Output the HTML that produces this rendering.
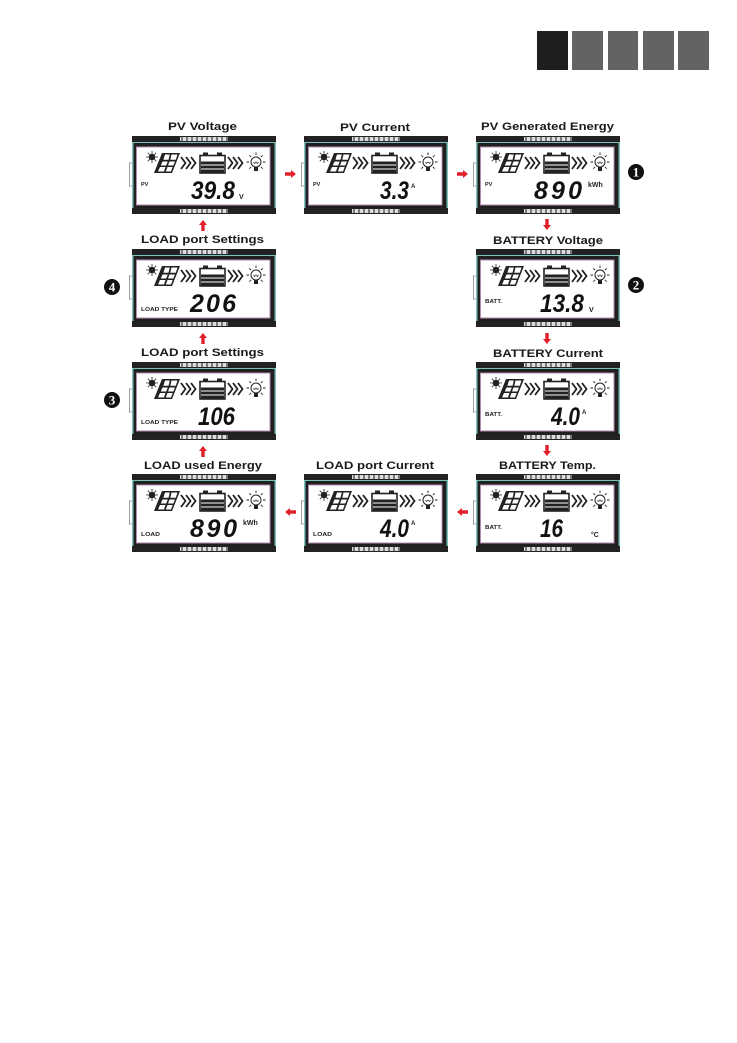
<!DOCTYPE html>
<html><head><meta charset="utf-8"><style>
html,body{margin:0;padding:0;background:#fff;width:737px;height:1043px;overflow:hidden}
svg{display:block}
.t{font:bold 11px "Liberation Sans",sans-serif;fill:#1a1a1a}
.l{font:bold 5.500px "Liberation Sans",sans-serif;fill:#222}
.u{font:bold 7px "Liberation Sans",sans-serif;fill:#222}
.d{font:italic bold 25px "Liberation Sans",sans-serif;fill:#111}
.n{font:bold 13px "Liberation Serif",serif;fill:#fff}
</style></head><body>
<svg width="737" height="1043" viewBox="0 0 737 1043" xmlns="http://www.w3.org/2000/svg">
<defs>
<g id="chev" fill="none" stroke="#222" stroke-width="1.800">
<path d="M0 0l4.500 6-4.500 6M5 0l4.500 6-4.500 6M10 0l4.500 6-4.500 6"/>
</g>
<g id="bar">
<rect width="144" height="6" fill="#222"/>
<rect x="48" y="1" width="48" height="4" fill="#ddd"/>
<path d="M50 1v4M55 1v4M60 1v4M65 1v4M70 1v4M75 1v4M80 1v4M85 1v4M90 1v4M95 1v4" stroke="#444" stroke-width="1.300"/>
</g>
<g id="p">
<path d="M1 27H-2.500V50H1" fill="none" stroke="#888" stroke-width=".8"/>
<rect x="0" y="6" width="144" height="66" fill="#7cc2bd"/>
<rect x="1.500" y="7" width="141" height="65" fill="#1f1f1f"/>
<rect x="4.500" y="11" width="133.500" height="58" fill="#fff" stroke="#b48bb0" stroke-width="1"/>
<use href="#bar"/>
<use href="#bar" y="72"/>
<!-- sun -->
<circle cx="20" cy="21" r="3.300" fill="#222"/>
<path d="M20 15v2.500M20 24.500v2.500M14 21h2.500M23.500 21h2.500M15.800 16.800l1.800 1.800M22.400 23.400l1.800 1.800M24.200 16.800l-1.800 1.800M17.600 23.400l-1.800 1.800" stroke="#222" stroke-width=".8"/>
<!-- pv panel -->
<path d="M30 17H48L40 37H22Z" fill="#222"/>
<path d="M33 18.500H37.800L36.500 23.800H31.400ZM39.500 18.500H45.500L43.800 23.800H38.300ZM30.500 25.500H35.700L34.200 29.500H28.800ZM37.500 25.500H43L41.300 29.500H36ZM28 31H33.500L32 35.500H26ZM35.500 31H40.700L39 35.500H33.800Z" fill="#fff"/>
<use href="#chev" x="49" y="21"/>
<use href="#chev" x="96" y="21"/>
<!-- battery -->
<rect x="68" y="19.500" width="25" height="17.500" fill="#fff" stroke="#222" stroke-width="1.600"/>
<rect x="71" y="16.500" width="5" height="3" fill="#222"/>
<rect x="85" y="16.500" width="5" height="3" fill="#222"/>
<rect x="69" y="25.500" width="23" height="3" fill="#222"/>
<rect x="69" y="29.500" width="23" height="3" fill="#222"/>
<rect x="69" y="33.500" width="23" height="3" fill="#222"/>
<!-- bulb -->
<circle cx="124" cy="26" r="5" fill="#fff" stroke="#222" stroke-width="1"/>
<path d="M121.500 26l1 1.500 1.500-1.500 1.500 1.500 1-1.500" fill="none" stroke="#222" stroke-width=".7"/>
<rect x="122" y="31" width="4" height="4" fill="#222"/>
<path d="M124 16.500v2.500M114.500 26h2.500M131 26h2.500M117.300 19.300l1.800 1.800M130.700 19.300l-1.800 1.800M117.300 32.700l1.800-1.800M130.700 32.700l-1.800-1.800" stroke="#222" stroke-width=".9"/>
</g>
<path id="ar" d="M0 -1.700H6V-4L11 0 6 4V1.700H0Z" fill="#e0202a"/>
</defs>

<rect x="537" y="31" width="31" height="39" fill="#1f1f1f"/>
<rect x="572" y="31" width="31" height="39" fill="#626364"/>
<rect x="608" y="31" width="30" height="39" fill="#626364"/>
<rect x="643" y="31" width="31" height="39" fill="#626364"/>
<rect x="678" y="31" width="31" height="39" fill="#626364"/>

<use href="#p" x="132" y="136"/>
<use href="#p" x="304" y="136"/>
<use href="#p" x="476" y="136"/>
<use href="#p" x="132" y="249"/>
<use href="#p" x="476" y="249"/>
<use href="#p" x="132" y="362"/>
<use href="#p" x="476" y="362"/>
<use href="#p" x="132" y="474"/>
<use href="#p" x="304" y="474"/>
<use href="#p" x="476" y="474"/>

<text class="t" x="168" y="130" textLength="69" lengthAdjust="spacingAndGlyphs">PV Voltage</text>
<text class="t" x="340" y="131" textLength="70" lengthAdjust="spacingAndGlyphs">PV Current</text>
<text class="t" x="481" y="130" textLength="133" lengthAdjust="spacingAndGlyphs">PV Generated Energy</text>
<text class="t" x="141" y="243" textLength="123" lengthAdjust="spacingAndGlyphs">LOAD port Settings</text>
<text class="t" x="493" y="244" textLength="110" lengthAdjust="spacingAndGlyphs">BATTERY Voltage</text>
<text class="t" x="141" y="356" textLength="123" lengthAdjust="spacingAndGlyphs">LOAD port Settings</text>
<text class="t" x="493" y="357" textLength="110" lengthAdjust="spacingAndGlyphs">BATTERY Current</text>
<text class="t" x="144" y="469" textLength="118" lengthAdjust="spacingAndGlyphs">LOAD used Energy</text>
<text class="t" x="316" y="469" textLength="118" lengthAdjust="spacingAndGlyphs">LOAD port Current</text>
<text class="t" x="499" y="469" textLength="97" lengthAdjust="spacingAndGlyphs">BATTERY Temp.</text>

<!-- Row 1 -->
<text class="l" x="141" y="186">PV</text>
<text class="d" x="191" y="199" textLength="44" lengthAdjust="spacingAndGlyphs">39.8</text>
<text class="u" x="239" y="199">V</text>
<text class="l" x="313" y="186">PV</text>
<text class="d" x="380" y="199" textLength="29" lengthAdjust="spacingAndGlyphs">3.3</text>
<text class="u" x="411" y="188" style="font-size:6px">A</text>
<text class="l" x="485" y="186">PV</text>
<text class="d" x="534" y="199" textLength="48" lengthAdjust="spacing">890</text>
<text class="u" x="588" y="187">kWh</text>
<!-- Row 2 -->
<text class="l" x="141" y="311" textLength="37" lengthAdjust="spacingAndGlyphs">LOAD TYPE</text>
<text class="d" x="190" y="312" textLength="46" lengthAdjust="spacing">206</text>
<text class="l" x="485" y="303" textLength="17" lengthAdjust="spacingAndGlyphs">BATT.</text>
<text class="d" x="540" y="312" textLength="44" lengthAdjust="spacingAndGlyphs">13.8</text>
<text class="u" x="589" y="312">V</text>
<!-- Row 3 -->
<text class="l" x="141" y="424" textLength="37" lengthAdjust="spacingAndGlyphs">LOAD TYPE</text>
<text class="d" x="198" y="425" textLength="37" lengthAdjust="spacingAndGlyphs">106</text>
<text class="l" x="485" y="416" textLength="17" lengthAdjust="spacingAndGlyphs">BATT.</text>
<text class="d" x="551" y="425" textLength="29" lengthAdjust="spacingAndGlyphs">4.0</text>
<text class="u" x="582" y="414" style="font-size:6px">A</text>
<!-- Row 4 -->
<text class="l" x="141" y="536" textLength="19" lengthAdjust="spacingAndGlyphs">LOAD</text>
<text class="d" x="190" y="537" textLength="47" lengthAdjust="spacing">890</text>
<text class="u" x="243" y="525">kWh</text>
<text class="l" x="313" y="536" textLength="19" lengthAdjust="spacingAndGlyphs">LOAD</text>
<text class="d" x="380" y="537" textLength="29" lengthAdjust="spacingAndGlyphs">4.0</text>
<text class="u" x="411" y="525" style="font-size:6px">A</text>
<text class="l" x="485" y="529" textLength="17" lengthAdjust="spacingAndGlyphs">BATT.</text>
<text class="d" x="540" y="537" textLength="23" lengthAdjust="spacingAndGlyphs">16</text>
<text class="u" x="591" y="537">°C</text>

<!-- Arrows -->
<use href="#ar" transform="translate(285 174)"/>
<use href="#ar" transform="translate(457 174)"/>
<use href="#ar" transform="translate(547 219) rotate(90)"/>
<use href="#ar" transform="translate(547 333) rotate(90)"/>
<use href="#ar" transform="translate(547 445) rotate(90)"/>
<use href="#ar" transform="translate(296 512) rotate(180)"/>
<use href="#ar" transform="translate(468 512) rotate(180)"/>
<use href="#ar" transform="translate(203 231) rotate(-90)"/>
<use href="#ar" transform="translate(203 344) rotate(-90)"/>
<use href="#ar" transform="translate(203 457) rotate(-90)"/>

<!-- Numbered markers -->
<circle cx="636" cy="172" r="8" fill="#111"/><text class="n" x="636" y="176.500" text-anchor="middle">1</text>
<circle cx="636" cy="285" r="8" fill="#111"/><text class="n" x="636" y="289.500" text-anchor="middle">2</text>
<circle cx="112" cy="287" r="8" fill="#111"/><text class="n" x="112" y="291.500" text-anchor="middle">4</text>
<circle cx="112" cy="400" r="8" fill="#111"/><text class="n" x="112" y="404.500" text-anchor="middle">3</text>
</svg>
</body></html>
